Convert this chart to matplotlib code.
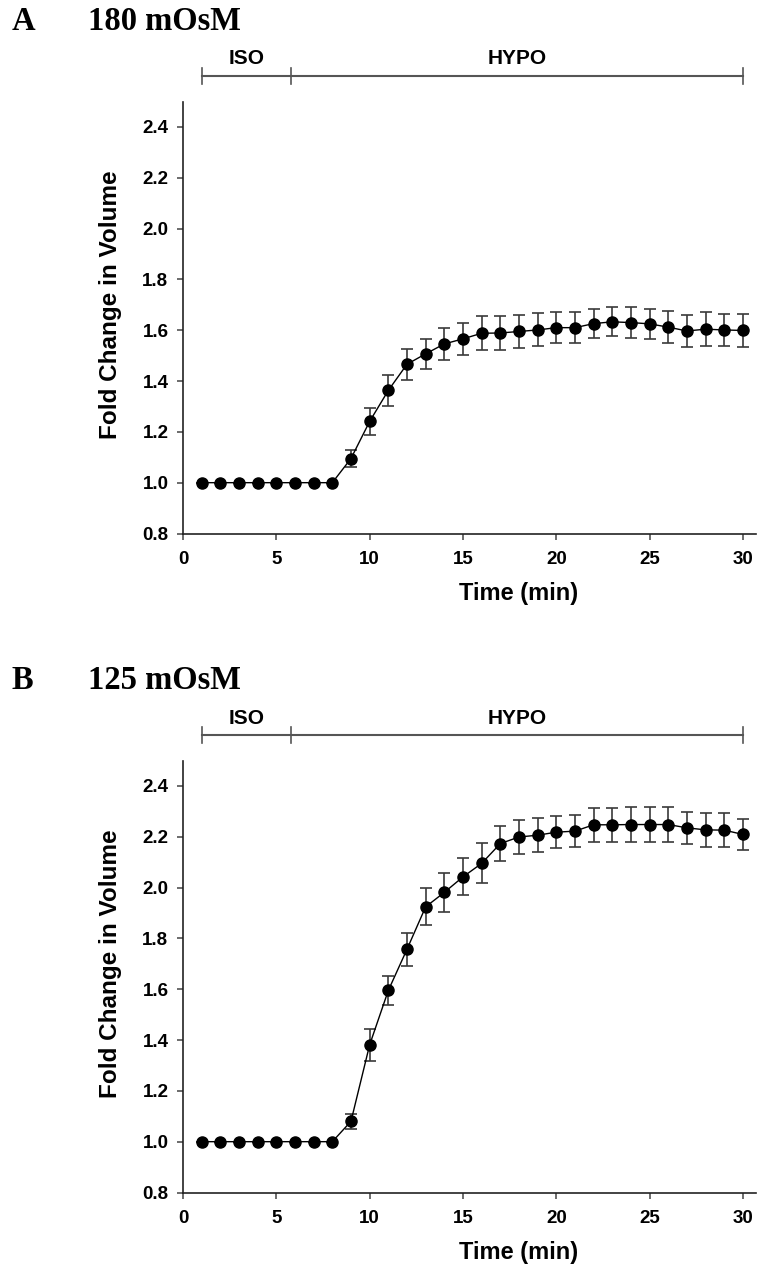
import matplotlib
matplotlib.use("Agg")
import matplotlib.pyplot as plt
import matplotlib.transforms as mtransforms
import numpy as np

# Time points (min)
time_min = list(range(1, 31))

# 180 mOsM: mean fold change in volume and SEM
vol_180 = [1.00, 1.00, 1.00, 1.00, 1.00, 1.00, 1.00, 1.00, 1.095, 1.241,
           1.363, 1.466, 1.507, 1.546, 1.566, 1.588, 1.589, 1.595, 1.601, 1.610,
           1.610, 1.626, 1.633, 1.630, 1.625, 1.612, 1.597, 1.604, 1.601, 1.599]
sem_180 = [0.0, 0.0, 0.0, 0.0, 0.0, 0.0, 0.0, 0.0, 0.035, 0.054,
           0.062, 0.060, 0.058, 0.062, 0.064, 0.067, 0.066, 0.066, 0.065, 0.061,
           0.061, 0.056, 0.057, 0.060, 0.060, 0.064, 0.064, 0.066, 0.063, 0.065]

# 125 mOsM: mean fold change in volume and SEM
vol_125 = [1.00, 1.00, 1.00, 1.00, 1.00, 1.00, 1.00, 1.00, 1.080, 1.381,
           1.595, 1.757, 1.924, 1.981, 2.042, 2.095, 2.173, 2.199, 2.206, 2.218,
           2.222, 2.247, 2.247, 2.248, 2.248, 2.248, 2.235, 2.227, 2.226, 2.209]
sem_125 = [0.0, 0.0, 0.0, 0.0, 0.0, 0.0, 0.0, 0.0, 0.030, 0.062,
           0.058, 0.064, 0.073, 0.076, 0.073, 0.079, 0.069, 0.066, 0.067, 0.064,
           0.063, 0.067, 0.068, 0.068, 0.068, 0.069, 0.064, 0.067, 0.066, 0.062]

panel_letters = ["A", "B"]
panel_titles = ["180 mOsM", "125 mOsM"]

# Perfusion periods (start, end, label)
phase_bounds = [1.0, 5.8, 30.0]
phase_labels = ["ISO", "HYPO"]

x_ticks = [0, 5, 10, 15, 20, 25, 30]
y_ticks = [0.8, 1.0, 1.2, 1.4, 1.6, 1.8, 2.0, 2.2, 2.4]

W, H = 757, 1278
fig = plt.figure(figsize=(W / 100, H / 100), dpi=100)

sans = ["Liberation Sans", "Arial", "DejaVu Sans"]
serif = ["Liberation Serif", "Times New Roman", "DejaVu Serif"]

axes_left_px = 183
axes_right_px = 756
axes_h_px = 432
axes_tops_px = [101.5, 760.5]

series = [(vol_180, sem_180), (vol_125, sem_125)]

for i, (vals, errs) in enumerate(series):
    top = axes_tops_px[i]
    ax = fig.add_axes([axes_left_px / W, 1 - (top + axes_h_px) / H,
                       (axes_right_px - axes_left_px) / W, axes_h_px / H])

    ax.errorbar(time_min, vals, yerr=errs, fmt="none", ecolor="#3a3a3a",
                elinewidth=1.2, capsize=4.5, capthick=1.2, zorder=2)
    ax.plot(time_min, vals, color="black", linewidth=1.0, marker="o",
            markersize=8, markerfacecolor="black", markeredgecolor="black",
            zorder=3)

    ax.set_xlim(0, 30.7)
    ax.set_ylim(0.8, 2.5)
    ax.set_xticks(x_ticks)
    ax.set_yticks(y_ticks)
    ax.set_xticklabels([str(t) for t in x_ticks])
    ax.set_yticklabels([f"{v:.1f}" for v in y_ticks])
    for lab in ax.get_xticklabels() + ax.get_yticklabels():
        lab.set_fontfamily(sans)
        lab.set_fontweight("bold")
        lab.set_fontsize(13.5)

    for side in ("top", "right"):
        ax.spines[side].set_visible(False)
    for side in ("left", "bottom"):
        ax.spines[side].set_color("#222222")
        ax.spines[side].set_linewidth(1.2)
    ax.tick_params(direction="out", length=4.5, width=1.1, color="#444444",
                   pad=6)
    ax.tick_params(axis="x", pad=8)

    ax.set_xlabel("Time (min)", fontfamily=sans, fontweight="bold",
                  fontsize=17)
    ax.set_ylabel("Fold Change in Volume", fontfamily=sans,
                  fontweight="bold", fontsize=17.5)
    ax.xaxis.set_label_coords(0.585, -0.112)
    ax.yaxis.set_label_coords(-0.106, 0.53)

    # Perfusion period bar above the plot
    trans = mtransforms.blended_transform_factory(ax.transData, ax.transAxes)
    bar_y = 1 + 25.5 / axes_h_px
    tick_h = 8 / axes_h_px
    ax.plot([phase_bounds[0], phase_bounds[-1]], [bar_y, bar_y],
            transform=trans, color="#555555", linewidth=1.5, clip_on=False)
    for xb in phase_bounds:
        ax.plot([xb, xb], [bar_y - tick_h, bar_y + tick_h], transform=trans,
                color="#555555", linewidth=1.2, clip_on=False)
    for j, lab in enumerate(phase_labels):
        xc = (phase_bounds[j] + phase_bounds[j + 1]) / 2
        ax.text(xc, 1 + 42.5 / axes_h_px, lab, transform=trans,
                ha="center", va="center", fontfamily=sans,
                fontweight="bold", fontsize=15)

    # Panel letter and osmolarity heading
    head_y = 1 - (top - 80) / H
    fig.text(12 / W, head_y, panel_letters[i], ha="left", va="center",
             fontfamily=serif, fontweight="bold", fontsize=23.5)
    fig.text(88 / W, head_y, panel_titles[i], ha="left", va="center",
             fontfamily=serif, fontweight="bold", fontsize=23.5)

fig.savefig("out.png", dpi=100, facecolor="white")
